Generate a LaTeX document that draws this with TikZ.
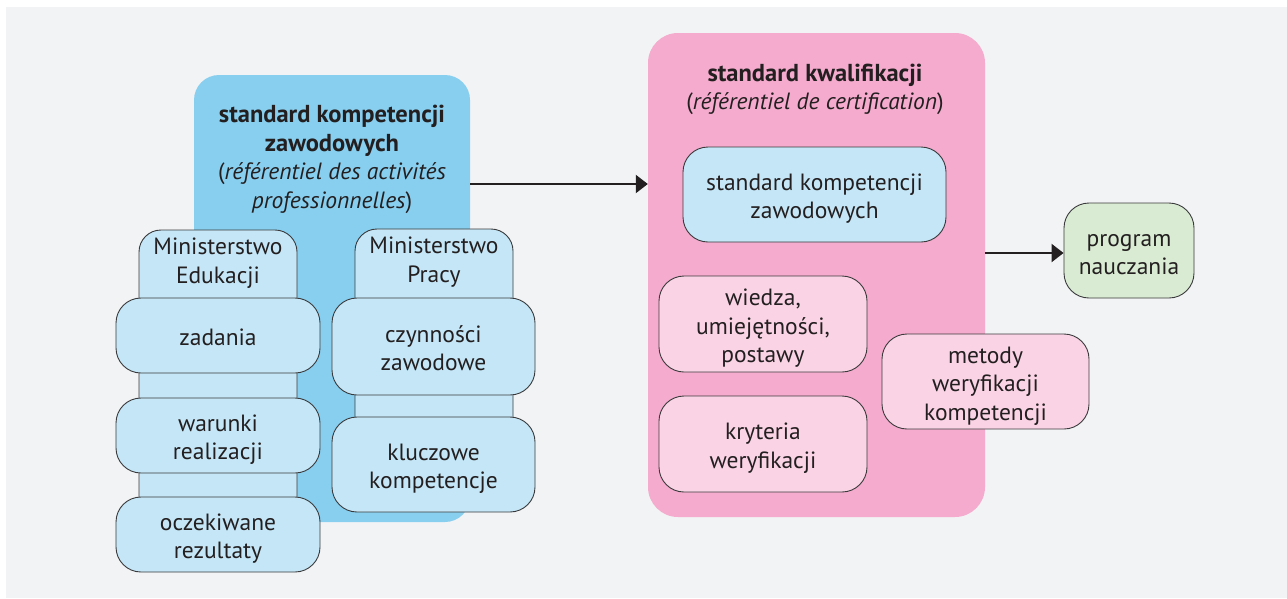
\documentclass[tikz,border=0pt]{standalone}
\usepackage{fontspec}
\setmainfont{PT Sans}
\usetikzlibrary{arrows.meta}
\definecolor{bgc}{HTML}{F2F3F5}
\definecolor{bigblue}{HTML}{88CFEF}
\definecolor{lblue}{HTML}{C4E6F6}
\definecolor{bigpink}{HTML}{F4ABCD}
\definecolor{lpink}{HTML}{FAD4E5}
\definecolor{lgreen}{HTML}{DAEBD3}
\definecolor{txt}{HTML}{231F20}
\definecolor{edge}{HTML}{3A3A3C}
\newcommand{\bt}[1]{{\fontsize{24.5}{28.5}\selectfont\bfseries #1}}
\newcommand{\ml}[1]{\raisebox{-4.5pt}[\height][\depth]{\begin{tabular}{@{}c@{}}#1\end{tabular}}}
\tikzset{
  txtstyle/.style={text=txt, font=\fontsize{23.5}{28.5}\selectfont, inner sep=0pt},
  subbox/.style={txtstyle, draw=edge, line width=0.9pt, rounded corners=25pt},
  bluebox/.style={subbox, fill=lblue},
  pinkbox/.style={subbox, fill=lpink},
  greenbox/.style={subbox, fill=lgreen},
  tabshape/.style={draw=edge, line width=0.9pt, fill=lblue},
  arr/.style={draw=txt, line width=2.2pt, -{Triangle[length=12pt,width=18pt]}},
}
\begin{document}
\begin{tikzpicture}[x=1pt,y=-1pt]
\useasboundingbox (0,0) rectangle (1287,598);
\fill[bgc] (6,7) rectangle (1287,598);
% big blue container
\node[fill=bigblue, rounded corners=25pt, minimum width=276pt, minimum height=447pt, inner sep=0pt] (skz) at (332,298.5) {};
\node[txtstyle] (skzt) at (332,155.5) {\ml{\bt{standard kompetencji}\\\bt{zawodowych}\\(\textit{référentiel des activités}\\\textit{professionnelles})}};
% tab columns
\draw[tabshape] (139,500) -- (139,252) arc[start angle=180,end angle=270,radius=22] -- (275,230) arc[start angle=270,end angle=360,radius=22] -- (297,500);
\node[txtstyle] (medu) at (218,258.8) {\ml{Ministerstwo\\Edukacji}};
\draw[tabshape] (355,420) -- (355,251) arc[start angle=180,end angle=270,radius=22] -- (491,229) arc[start angle=270,end angle=360,radius=22] -- (513,420);
\node[txtstyle] (mpr) at (434,258) {\ml{Ministerstwo\\Pracy}};
% left boxes
\node[bluebox, minimum width=204pt, minimum height=75pt] (zad) at (218,335.5) {\ml{zadania}};
\node[bluebox, minimum width=204pt, minimum height=75pt] (war) at (218,435.5) {\ml{warunki\\realizacji}};
\node[bluebox, minimum width=204pt, minimum height=75pt] (ocz) at (218,534.5) {\ml{oczekiwane\\rezultaty}};
\node[bluebox, minimum width=203pt, minimum height=97pt] (czy) at (433.5,346.5) {\ml{czynności\\zawodowe}};
\node[bluebox, minimum width=203pt, minimum height=95pt] (klu) at (433.5,464.5) {\ml{kluczowe\\kompetencje}};
% pink container
\node[fill=bigpink, rounded corners=30pt, minimum width=337pt, minimum height=484pt, inner sep=0pt] (kw) at (816.5,275) {};
\node[txtstyle] (kwt) at (815,85.5) {\ml{\bt{standard kwalifikacji}\\(\textit{référentiel de certification})}};
\node[bluebox, minimum width=263pt, minimum height=95pt] (inb) at (814.5,194.5) {\ml{standard kompetencji\\zawodowych}};
\node[pinkbox, minimum width=208pt, minimum height=96pt] (wie) at (763,324) {\ml{wiedza,\\umiejętności,\\postawy}};
\node[pinkbox, minimum width=208pt, minimum height=96pt] (kry) at (763,444) {\ml{kryteria\\weryfikacji}};
\node[pinkbox, minimum width=207pt, minimum height=95pt] (met) at (985.5,381.5) {\ml{metody\\weryfikacji\\kompetencji}};
\node[greenbox, minimum width=130pt, minimum height=95pt] (prog) at (1129,250.5) {\ml{program\\nauczania}};
% arrows
\coordinate (ya) at (0,184);
\coordinate (yb) at (0,253);
\draw[arr] (skz.east |- ya) -- (kw.west |- ya);
\draw[arr] (kw.east |- yb) -- (prog.west |- yb);
\end{tikzpicture}
\end{document}
